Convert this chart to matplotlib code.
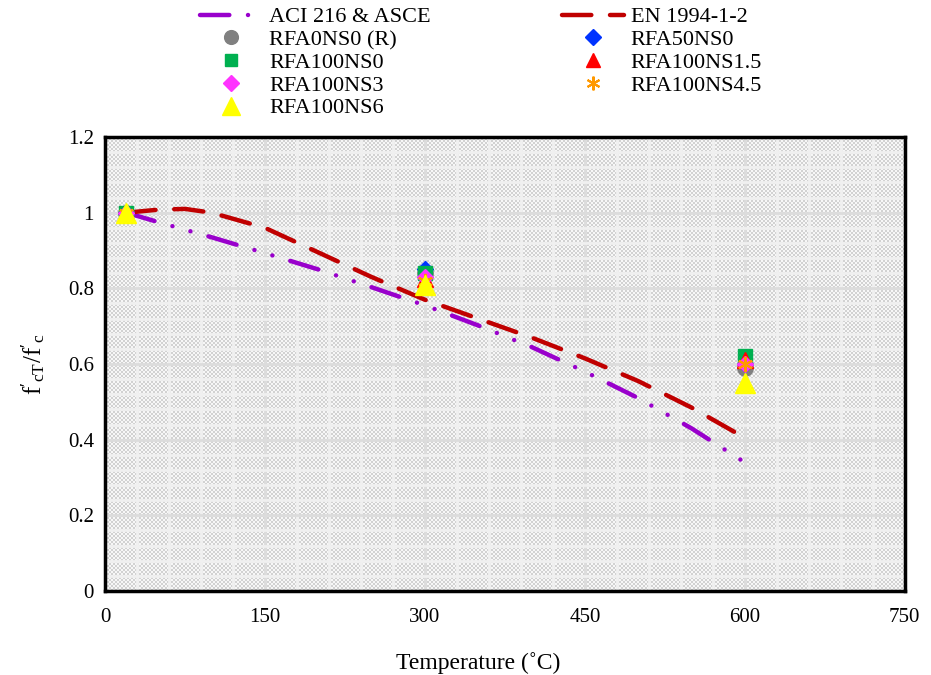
import matplotlib
matplotlib.use("Agg")
import matplotlib.pyplot as plt
from matplotlib.ticker import MultipleLocator, FuncFormatter
import numpy as np

plt.rcParams['font.family'] = ['Liberation Serif', 'DejaVu Serif']
plt.rcParams['mathtext.fontset'] = 'custom'
plt.rcParams['mathtext.rm'] = 'Liberation Serif'
plt.rcParams['mathtext.it'] = 'Liberation Serif'

# code curves
aci_T = [20, 50, 100, 150, 200, 250, 300, 350, 400, 450, 500, 550, 600]
aci_r = [1.0, 0.975, 0.935, 0.893, 0.85, 0.803, 0.755, 0.702, 0.645, 0.58, 0.51, 0.43, 0.34]
en_T = [20, 50, 75, 100, 150, 200, 250, 300, 350, 400, 450, 500, 550, 600]
en_r = [1.0, 1.008, 1.01, 1.0, 0.96, 0.895, 0.83, 0.77, 0.72, 0.67, 0.615, 0.555, 0.485, 0.405]

# test results
temps = [20, 300, 600]
rfa0ns0 = [1.0, 0.84, 0.59]
rfa50ns0 = [1.0, 0.85, 0.60]
rfa100ns0 = [1.0, 0.84, 0.62]
rfa100ns15 = [1.0, 0.825, 0.61]
rfa100ns3 = [1.0, 0.83, 0.60]
rfa100ns45 = [1.0, 0.82, 0.60]
rfa100ns6 = [1.0, 0.81, 0.55]

fig = plt.figure(figsize=(9.31, 6.75), dpi=100)
ax = fig.add_axes([0.1128, 0.1244, 0.859, 0.6726])

# checkered plot-area fill (pure texture, 2 px squares)
ny, nx = 227, 400
tex = (np.add.outer(np.arange(ny), np.arange(nx)) % 2).astype(float)
ax.imshow(tex, cmap=matplotlib.colors.ListedColormap(['#f7f7f7', '#d2d2d2']),
          extent=(0, 750, 0, 1.2), aspect='auto', interpolation='nearest', zorder=0)

ax.set_xlim(0, 750)
ax.set_ylim(0, 1.2)
ax.xaxis.set_major_locator(MultipleLocator(150))
ax.xaxis.set_minor_locator(MultipleLocator(30))
ax.yaxis.set_major_locator(MultipleLocator(0.2))
ax.yaxis.set_minor_locator(MultipleLocator(0.04))
ax.yaxis.set_major_formatter(FuncFormatter(lambda v, p: f'{v:g}'))
ax.grid(which='minor', color='#f0f0f0', lw=2, zorder=1)
ax.grid(which='major', color='#dcdcdc', lw=2, zorder=1)
ax.set_axisbelow(True)
ax.tick_params(which='both', length=0, labelsize=15)
ax.tick_params(axis='x', pad=12)
ax.tick_params(axis='y', pad=8)
for s in ax.spines.values():
    s.set_linewidth(2.5)
    s.set_zorder(5)

l1, = ax.plot(aci_T, aci_r, color='#9900CC', lw=3.2,
              dashes=(6.6, 4.2, 0.01, 4.2, 0.01, 4.2), dash_capstyle='round',
              label='ACI 216 & ASCE', zorder=3)
l2, = ax.plot(en_T, en_r, color='#C00000', lw=3.2, dashes=(6.6, 4.2),
              dash_capstyle='round', label='EN 1994-1-2', zorder=3)

h1, = ax.plot(temps, rfa0ns0, 'o', color='#808080', ms=11, ls='none', label='RFA0NS0 (R)', zorder=4)
h2, = ax.plot(temps, rfa50ns0, 'D', color='#0033FF', ms=8.5, ls='none', label='RFA50NS0', zorder=4)
h3, = ax.plot(temps, rfa100ns0, 's', color='#00B050', ms=10, ls='none', label='RFA100NS0', zorder=4)
h4, = ax.plot(temps, rfa100ns15, '^', color='#FF0000', ms=11, ls='none', label='RFA100NS1.5', zorder=4)
h5, = ax.plot(temps, rfa100ns3, 'D', color='#FF33FF', ms=8.5, ls='none', label='RFA100NS3', zorder=4)
h6, = ax.plot(temps, rfa100ns45, marker=(6, 2, 0), color='#FF9900', mew=1.5, ms=11, ls='none',
              label='RFA100NS4.5', zorder=4)
h7, = ax.plot(temps, rfa100ns6, '^', color='#FFFF00', ms=14, ls='none', label='RFA100NS6', zorder=4)

handles = [l1, h1, h3, h5, h7, l2, h2, h4, h6]
fig.legend(handles=handles, labels=[h.get_label() for h in handles], ncol=2,
           loc='upper left', bbox_to_anchor=(0.215, 0.99), frameon=False,
           fontsize=16, handlelength=2.8, columnspacing=5.9, labelspacing=0.1,
           handletextpad=0.3, borderpad=0, borderaxespad=0, markerscale=0.9)

ax.set_xlabel('Temperature (˚C)', fontsize=17)
ax.xaxis.set_label_coords(0.466, -0.135)
ax.set_ylabel(r"$\mathrm{f'_{cT}/f'_{c}}$", fontsize=18)
ax.yaxis.set_label_coords(-0.072, 0.5)

fig.savefig('out.png', dpi=100)
